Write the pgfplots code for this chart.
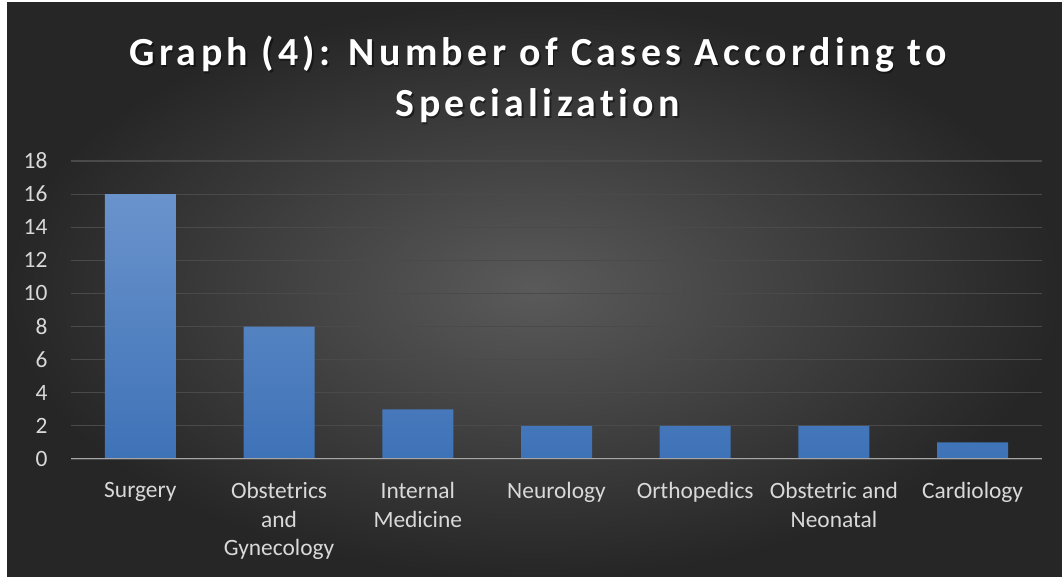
\documentclass[border=0pt]{standalone}
\usepackage{pgfplots}
\pgfplotsset{compat=1.18}
\usepackage{fontspec}
\setmainfont{Carlito}
\definecolor{gridc}{HTML}{4A4A4A}
\definecolor{axc}{HTML}{A6A6A6}
\definecolor{tickc}{HTML}{D9D9D9}
\definecolor{bartop}{HTML}{6A93CC}
\definecolor{barbot}{HTML}{3E72B7}
\definecolor{bgin}{HTML}{5A5A5A}
\definecolor{bgout}{HTML}{262626}
\begin{document}
\begin{tikzpicture}[x=1bp,y=1bp]
\fill[white] (0,0) rectangle (1062,578);
\shade[inner color=bgin, outer color=bgout] (7,1) rectangle (1062,575);
\node[text=black, opacity=0.45, font=\fontsize{40}{51}\selectfont\bfseries\addfontfeature{LetterSpace=11,Ligatures=NoCommon}, align=center, anchor=center] at (539.5,497) {Graph (4): Number of Cases According to\\Specialization};
\node[text=white, font=\fontsize{40}{51}\selectfont\bfseries\addfontfeature{LetterSpace=11,Ligatures=NoCommon}, align=center, anchor=center] at (538,498.5) {Graph (4): Number of Cases According to\\Specialization};
\begin{axis}[
  at={(71bp,119bp)}, anchor=south west,
  scale only axis, width=971bp, height=298bp,
  xmin=-0.5, xmax=6.5, ymin=0, ymax=18,
  ytick={0,2,...,18},
  xtick={0,...,6},
  xticklabels={Surgery, Obstetrics\\and\\Gynecology, Internal\\Medicine, Neurology, Orthopedics, Obstetric and\\Neonatal, Cardiology},
  x tick label style={align=center, text=tickc, font=\fontsize{23.5}{28.5}\selectfont, yshift=-20bp},
  y tick label style={text=tickc, font=\fontsize{23.5}{24}\selectfont, xshift=-20bp},
  /pgf/number format/assume math mode=true,
  axis line style={draw=none},
  major tick length=0pt,
  ymajorgrids, grid style={gridc, line width=1.2bp},
  axis on top=false,
]
\addplot[ybar, bar width=71bp, draw=none, top color=bartop, bottom color=barbot] coordinates {(0,16) (1,8) (2,3) (3,2) (4,2) (5,2) (6,1)};
\draw[axc, line width=1.8bp] (axis cs:-0.5,0) -- (axis cs:6.5,0);
\end{axis}
\end{tikzpicture}
\end{document}
